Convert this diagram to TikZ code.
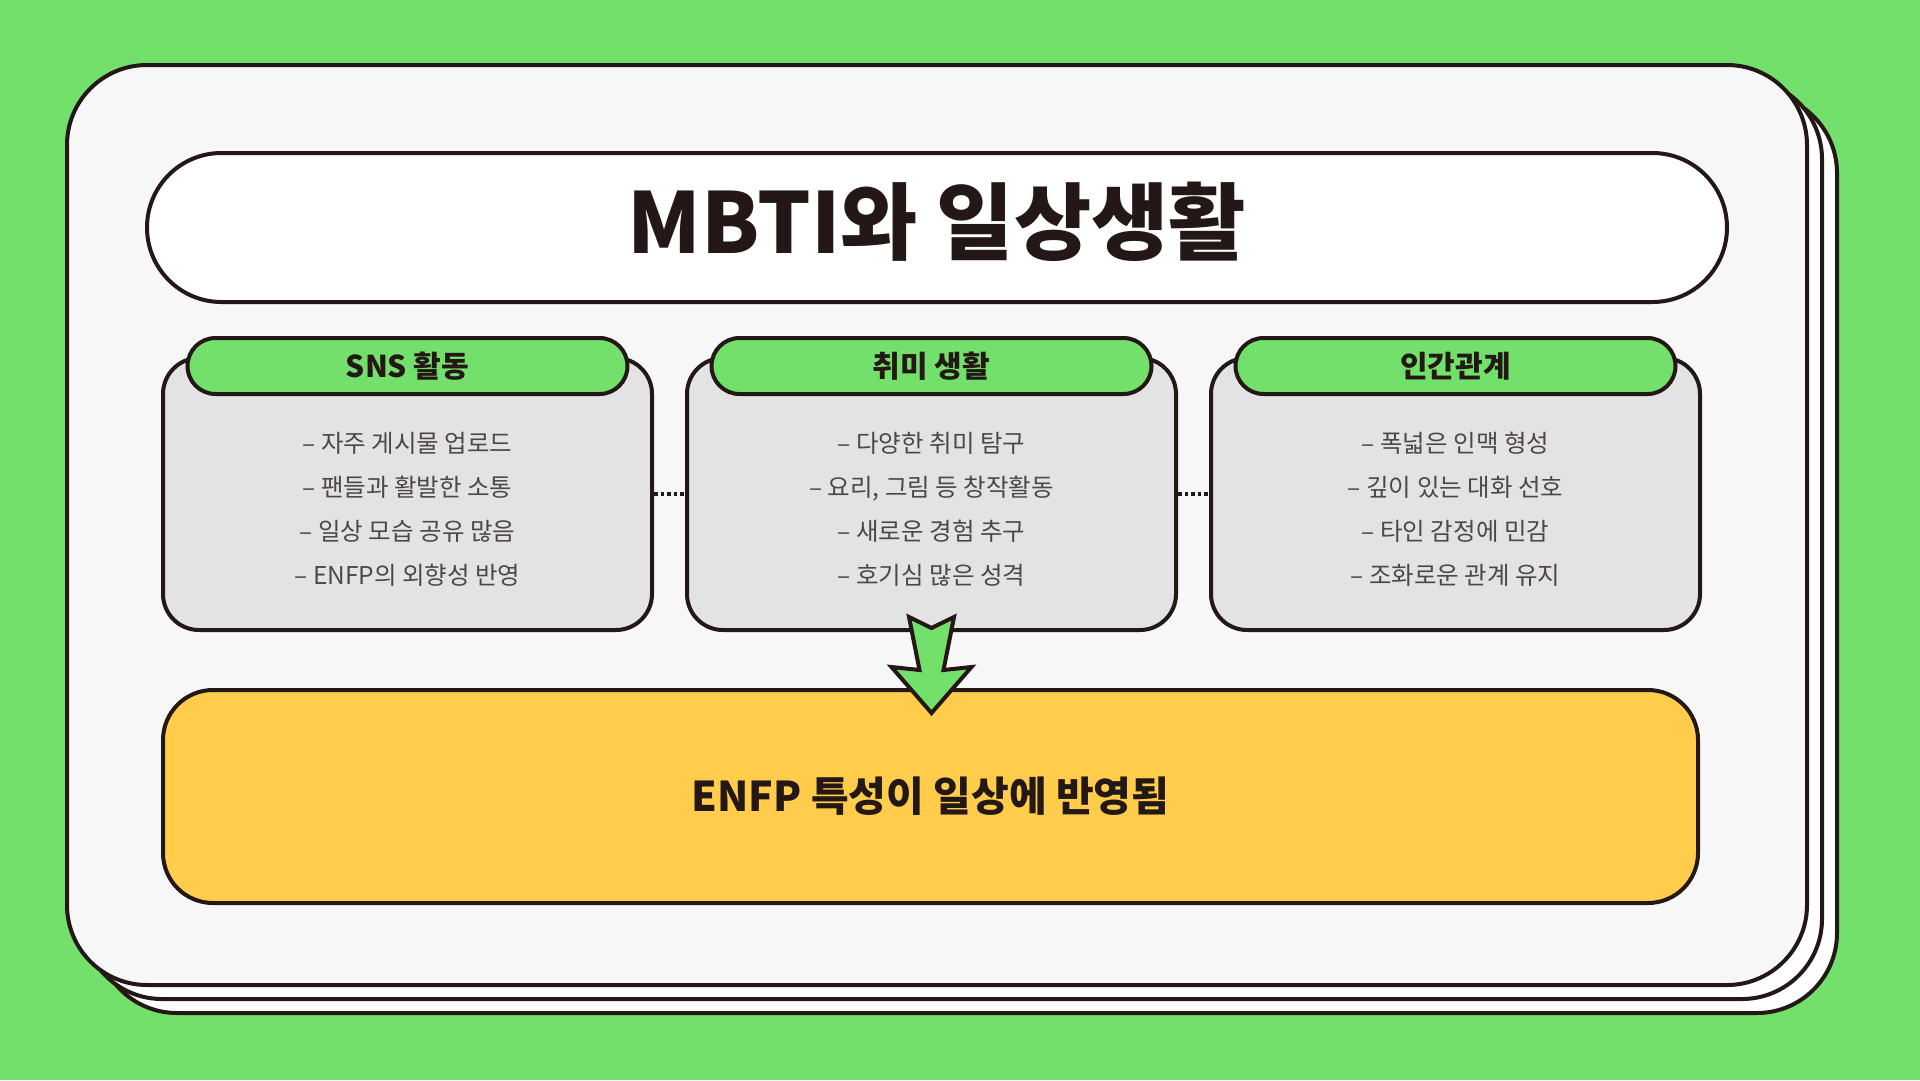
\documentclass[tikz,border=0pt]{standalone}
\usepackage{fontspec}
\setmainfont{Noto Sans CJK KR}
\usetikzlibrary{calc}
\definecolor{bg}{HTML}{74E06C}
\definecolor{ink}{HTML}{231815}
\definecolor{cardfill}{HTML}{F7F7F7}
\definecolor{boxfill}{HTML}{E3E3E3}
\definecolor{yellowfill}{HTML}{FFCC4B}
\definecolor{bodyink}{HTML}{4F4747}
\begin{document}
\begin{tikzpicture}[x=1pt,y=-1pt,
  outline/.style={draw=ink,line width=4pt},
  card/.style={outline,rectangle,rounded corners=80pt,minimum width=1740pt,minimum height=920pt,inner sep=0pt},
  backcard/.style={card,fill=white},
  frontcard/.style={card,fill=cardfill},
  titlepill/.style={outline,rectangle,fill=white,rounded corners=74.5pt,minimum width=1580pt,minimum height=149pt,inner sep=0pt},
  titletext/.style={text=ink,font=\bfseries\fontsize{84}{96}\selectfont,inner sep=0pt},
  infobox/.style={outline,rectangle,fill=boxfill,rounded corners=36pt,minimum width=489pt,minimum height=272pt,inner sep=0pt},
  headpill/.style={outline,rectangle,fill=bg,rounded corners=28pt,minimum width=440pt,minimum height=56pt,inner sep=0pt,
     text=ink,font=\bfseries\fontsize{30}{36}\selectfont},
  bodytext/.style={align=center,text=bodyink,font=\fontsize{24.5}{44}\selectfont,inner sep=0pt},
  resultbox/.style={outline,rectangle,fill=yellowfill,rounded corners=50pt,minimum width=1535pt,minimum height=213pt,inner sep=0pt,
     text=ink,font=\bfseries\fontsize{41}{48}\selectfont},
  dotlink/.style={draw=ink,line width=3.5pt,dash pattern=on 3.5pt off 3pt},
  bigarrow/.style={draw=ink,line width=4pt,fill=bg,line join=miter,miter limit=10}
]
\fill[bg] (0,0) rectangle (1920,1080);
\useasboundingbox (0,0) rectangle (1920,1080);

% stacked cards
\node[backcard] (back2) at (967,553) {};
\node[backcard] (back1) at (952,539) {};
\node[frontcard] (card) at (937,525) {};

% title
\node[titlepill] (title) at (937,227.5) {};
\node[titletext] (titlelabel) at (937,222) {MBTI와 일상생활};

% info boxes
\node[infobox] (sns) at (407.5,494) {};
\node[infobox] (hobby) at (931.5,494) {};
\node[infobox] (rel) at (1455.5,494) {};

\node[headpill] (snshead) at (407.5,366) {SNS 활동};
\node[headpill] (hobbyhead) at (931.5,366) {취미 생활};
\node[headpill] (relhead) at (1455.5,366) {인간관계};

\node[bodytext] (snstext) at ($(sns)+(0,15)$) {– 자주 게시물 업로드\\– 팬들과 활발한 소통\\– 일상 모습 공유 많음\\– ENFP의 외향성 반영};
\node[bodytext] (hobbytext) at ($(hobby)+(0,15)$) {– 다양한 취미 탐구\\– 요리, 그림 등 창작활동\\– 새로운 경험 추구\\– 호기심 많은 성격};
\node[bodytext] (reltext) at ($(rel)+(0,15)$) {– 폭넓은 인맥 형성\\– 깊이 있는 대화 선호\\– 타인 감정에 민감\\– 조화로운 관계 유지};

% dotted links
\draw[dotlink] (sns.east) -- (hobby.west);
\draw[dotlink] (hobby.east) -- (rel.west);

% result box
\node[resultbox] (result) at (930.5,796.5) {ENFP 특성이 일상에 반영됨};

% arrow from hobby box to result box
\coordinate (atail) at (hobby.south);
\begin{scope}[shift={(atail)}]
\draw[bigarrow] (-22.5,-15) -- (0,-4) -- (22.5,-15) -- (12,38) -- (40,35) -- (0,81) -- (-40,35) -- (-12,38) -- cycle;
\end{scope}
\end{tikzpicture}
\end{document}
